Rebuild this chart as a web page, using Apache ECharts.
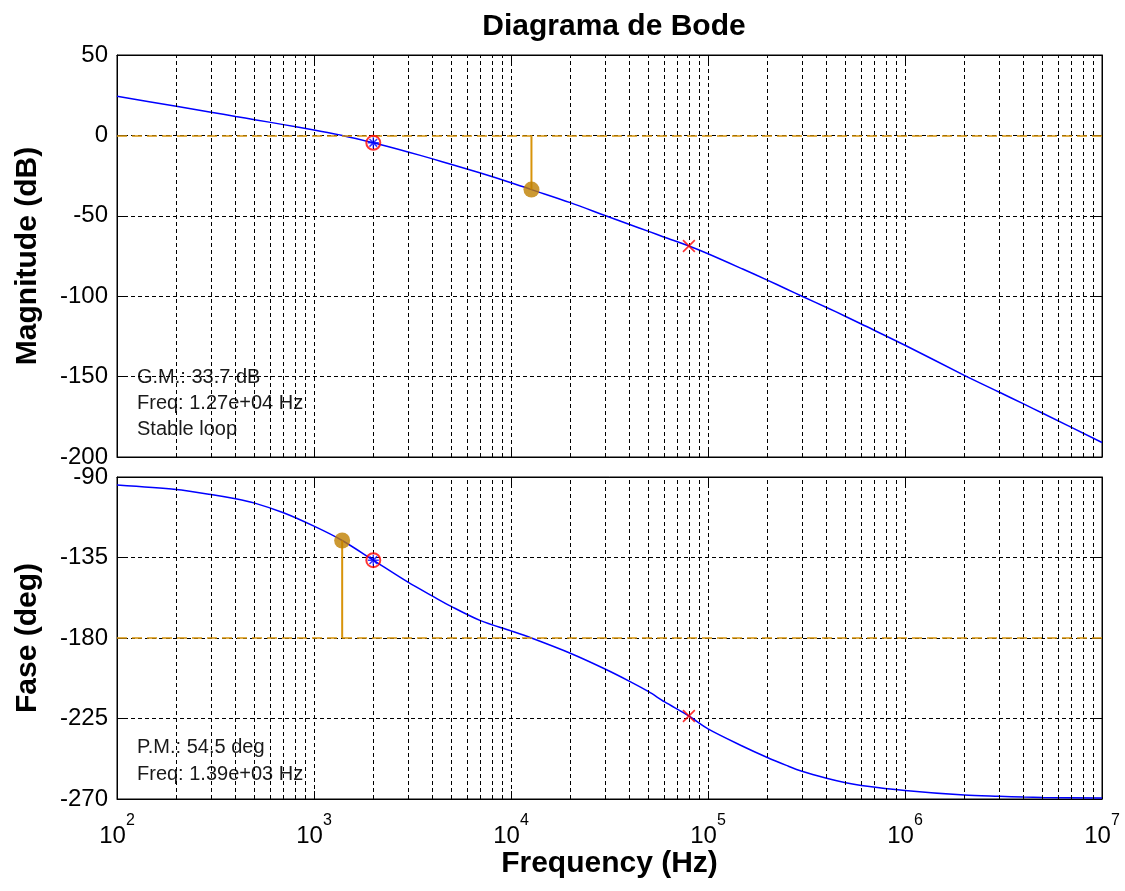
<!DOCTYPE html>
<html>
<head>
<meta charset="utf-8">
<title>Diagrama de Bode</title>
<script src="https://cdn.jsdelivr.net/npm/echarts@6/dist/echarts.min.js"></script>
<style>
  html, body { margin: 0; padding: 0; background: #ffffff; }
  #chart { width: 1125px; height: 891px; }
</style>
</head>
<body>
<div id="chart"></div>
<script>
// Open-loop frequency response
const freqHz = [100, 200, 300, 400, 500, 700, 1000, 1390, 2000, 3000, 4000, 5000, 7000,
  10000, 12700, 20000, 30000, 40000, 50000, 60000, 80000, 1e5, 1.5e5, 2e5, 2.5e5, 3e5, 4e5, 5e5, 6e5,
  1e6, 2e6, 3e6, 4e6, 5e6, 1e7];
const magnitudeDb = [24.4, 18.1, 14.4, 11.8, 9.8, 6.7, 3.3, 0, -4.6, -10.3, -14.6, -18.1, -23.4,
  -29.4, -33.7, -41.8, -49.8, -55.4, -59.7, -63.3, -68.8, -73.6, -83.1, -90.0, -95.5, -100, -107, -112.6, -117.3,
  -130.5, -149.2, -159.6, -167.0, -172.8, -191.0];
const phaseDeg = [-94.5, -97.0, -99.8, -102.2, -104.6, -110.0, -117.5, -125.5, -136.5, -148.8, -156.6, -162.5, -170.3,
  -176.0, -180.0, -188.5, -197.3, -204.2, -210.0, -215.6, -223.6, -230.8, -240.5, -246.8, -251.2, -254.5, -258.4, -260.9, -262.4,
  -265.2, -267.8, -268.5, -268.9, -269.1, -269.4];

// Stability margins
const gainMarginDb = 33.7;
const gainMarginFreq = 1.27e4;
const phaseMarginDeg = 54.5;
const phaseMarginFreq = 1.39e3;

// Compensator zero (o, *) and pole (x) frequencies
const zeroFreq = 2000;
const poleFreq = 80000;

// Axis ranges and ticks
const freqRange = [1e2, 1e7];
const magRange = [-200, 50];
const magStep = 50;
const phaseRange = [-270, -90];
const phaseStep = 45;

const FONT = 'Liberation Sans, Arial, sans-serif';
const BLUE = '#0000ff';
const RED = '#ff0000';
const ORANGE_LINE = '#d8940a';
const ORANGE_DOT = '#bf7f00';
const GRID_DASH = [4, 3];

// minor log grid lines: 2..9 within each decade
const minorFreqs = [];
for (let e = 2; e < 7; e++) {
  for (let m = 2; m <= 9; m++) minorFreqs.push(m * Math.pow(10, e));
}

function expFmt(v) {
  return v.toExponential(2).replace(/e([+-])(\d)$/, (s, sign, d) => 'e' + sign + '0' + d);
}

const magPoints = freqHz.map((f, i) => [f, magnitudeDb[i]]);
const phasePoints = freqHz.map((f, i) => [f, phaseDeg[i]]);
const iz = freqHz.indexOf(zeroFreq);
const ip = freqHz.indexOf(poleFreq);

const ASTERISK = 'path://M8.7,0H11.3V20H8.7Z M0,8.7H20V11.3H0Z M2.1,4L4,2.1L17.9,16L16,17.9Z M16,2.1L17.9,4L4,17.9L2.1,16Z';
const CROSS = 'path://M2.2,3.6L3.6,2.2L17.8,16.4L16.4,17.8Z M16.4,2.2L17.8,3.6L3.6,17.8L2.2,16.4Z';

const grids = [
  { left: 117, right: 23, top: 55, height: 402 },
  { left: 117, right: 23, top: 477, height: 322 }
];

function xAxisPair(gridIndex, withLabels) {
  const base = {
    gridIndex,
    type: 'log',
    logBase: 10,
    min: freqRange[0],
    max: freqRange[1],
    axisLine: { show: true, onZero: false, lineStyle: { color: '#000', width: 1 } },
    axisTick: { show: true, inside: true, length: 8, lineStyle: { color: '#000' } },
    minorTick: { show: false }
  };
  return [
    Object.assign({}, base, {
      position: 'bottom',
      splitLine: { show: true, lineStyle: { color: '#000', type: GRID_DASH, width: 1 } },
      axisLabel: withLabels ? {
        show: true,
        margin: 14,
        showMinLabel: true,
        showMaxLabel: true,
        formatter: v => '{b|10}{s|' + Math.round(Math.log10(v)) + '}',
        rich: {
          b: { fontFamily: FONT, fontSize: 24, color: '#000', lineHeight: 35, verticalAlign: 'bottom' },
          s: { fontFamily: FONT, fontSize: 16, color: '#000', lineHeight: 20, verticalAlign: 'top' }
        }
      } : { show: false },
      name: withLabels ? 'Frequency (Hz)' : '',
      nameLocation: 'middle',
      nameGap: 50,
      nameTextStyle: { fontFamily: FONT, fontSize: 30, fontWeight: 'bold', color: '#000', verticalAlign: 'top' }
    }),
    Object.assign({}, base, {
      position: 'top',
      splitLine: { show: false },
      axisLabel: { show: false }
    })
  ];
}

function yAxisPair(gridIndex, range, step, name) {
  const base = {
    gridIndex,
    type: 'value',
    min: range[0],
    max: range[1],
    interval: step,
    axisLine: { show: true, onZero: false, lineStyle: { color: '#000', width: 1 } },
    axisTick: { show: true, inside: true, length: 8, lineStyle: { color: '#000' } }
  };
  return [
    Object.assign({}, base, {
      position: 'left',
      splitLine: { show: true, lineStyle: { color: '#000', type: GRID_DASH, width: 1 } },
      axisLabel: { show: true, margin: 9, fontFamily: FONT, fontSize: 24, color: '#000' },
      name,
      nameLocation: 'middle',
      nameGap: 74,
      nameTextStyle: { fontFamily: FONT, fontSize: 30, fontWeight: 'bold', color: '#000' }
    }),
    Object.assign({}, base, {
      position: 'right',
      splitLine: { show: false },
      axisLabel: { show: false }
    })
  ];
}

function panelSeries(xi, yi, points, refValue, marginFreq, marginValue, zeroValue, poleValue) {
  return [
    {
      // minor log grid
      type: 'line', xAxisIndex: xi, yAxisIndex: yi, data: [], z: 1, silent: true,
      markLine: {
        silent: true, symbol: 'none', label: { show: false },
        lineStyle: { color: '#000', type: GRID_DASH, width: 1 },
        animation: false,
        data: minorFreqs.map(f => ({ xAxis: f }))
      }
    },
    {
      // reference level (0 dB / -180 deg)
      type: 'line', xAxisIndex: xi, yAxisIndex: yi, data: [], z: 2, silent: true,
      markLine: {
        silent: true, symbol: 'none', label: { show: false },
        lineStyle: { color: ORANGE_LINE, type: [10, 5], width: 1.6 },
        animation: false,
        data: [{ yAxis: refValue }]
      }
    },
    {
      type: 'line', xAxisIndex: xi, yAxisIndex: yi, data: points,
      showSymbol: false, smooth: 0.3, z: 4,
      lineStyle: { color: BLUE, width: 1.5 }
    },
    {
      // margin stem
      type: 'line', xAxisIndex: xi, yAxisIndex: yi,
      data: [[marginFreq, refValue], [marginFreq, marginValue]],
      showSymbol: false, z: 5,
      lineStyle: { color: ORANGE_LINE, width: 2 }
    },
    {
      type: 'scatter', xAxisIndex: xi, yAxisIndex: yi,
      data: [[marginFreq, marginValue]], symbol: 'circle', symbolSize: 16, z: 6,
      itemStyle: { color: ORANGE_DOT }
    },
    {
      type: 'scatter', xAxisIndex: xi, yAxisIndex: yi,
      data: [[zeroFreq, zeroValue]], symbol: 'circle', symbolSize: 14, z: 6,
      itemStyle: { color: 'rgba(0,0,0,0)', borderColor: RED, borderWidth: 2 }
    },
    {
      type: 'scatter', xAxisIndex: xi, yAxisIndex: yi,
      data: [[zeroFreq, zeroValue]], symbol: ASTERISK, symbolSize: 11, z: 7,
      itemStyle: { color: BLUE }
    },
    {
      type: 'scatter', xAxisIndex: xi, yAxisIndex: yi,
      data: [[poleFreq, poleValue]], symbol: CROSS, symbolSize: 13, z: 7,
      itemStyle: { color: RED }
    }
  ];
}

const xTop = xAxisPair(0, false);
const xBottom = xAxisPair(1, true);
const yTop = yAxisPair(0, magRange, magStep, 'Magnitude (dB)');
const yBottom = yAxisPair(1, phaseRange, phaseStep, 'Fase (deg)');

const annotationStyle = { font: '20px ' + FONT, fill: '#1a1a1a' };

const option = {
  backgroundColor: '#ffffff',
  animation: false,
  title: {
    text: 'Diagrama de Bode',
    left: 609,
    textAlign: 'center',
    top: 7,
    textStyle: { fontFamily: FONT, fontSize: 30, fontWeight: 'bold', color: '#000' }
  },
  grid: grids.map(g => Object.assign({ show: true, borderColor: '#000', borderWidth: 1, backgroundColor: '#fff' }, g)),
  xAxis: [xTop[0], xTop[1], xBottom[0], xBottom[1]],
  yAxis: [yTop[0], yTop[1], yBottom[0], yBottom[1]],
  series: [].concat(
    panelSeries(0, 0, magPoints, 0, gainMarginFreq, -gainMarginDb, magnitudeDb[iz], magnitudeDb[ip]),
    panelSeries(2, 2, phasePoints, -180, phaseMarginFreq, -180 + phaseMarginDeg, phaseDeg[iz], phaseDeg[ip])
  ),
  graphic: [
    { type: 'text', left: 137, top: 367, style: Object.assign({ text: 'G.M.: ' + gainMarginDb.toFixed(1) + ' dB' }, annotationStyle) },
    { type: 'text', left: 137, top: 393, style: Object.assign({ text: 'Freq: ' + expFmt(gainMarginFreq) + ' Hz' }, annotationStyle) },
    { type: 'text', left: 137, top: 419, style: Object.assign({ text: 'Stable loop' }, annotationStyle) },
    { type: 'text', left: 137, top: 737, style: Object.assign({ text: 'P.M.: ' + phaseMarginDeg.toFixed(1) + ' deg' }, annotationStyle) },
    { type: 'text', left: 137, top: 764, style: Object.assign({ text: 'Freq: ' + expFmt(phaseMarginFreq) + ' Hz' }, annotationStyle) }
  ]
};

const chart = echarts.init(document.getElementById('chart'), null, { renderer: 'canvas' });
chart.setOption(option);
</script>
</body>
</html>
